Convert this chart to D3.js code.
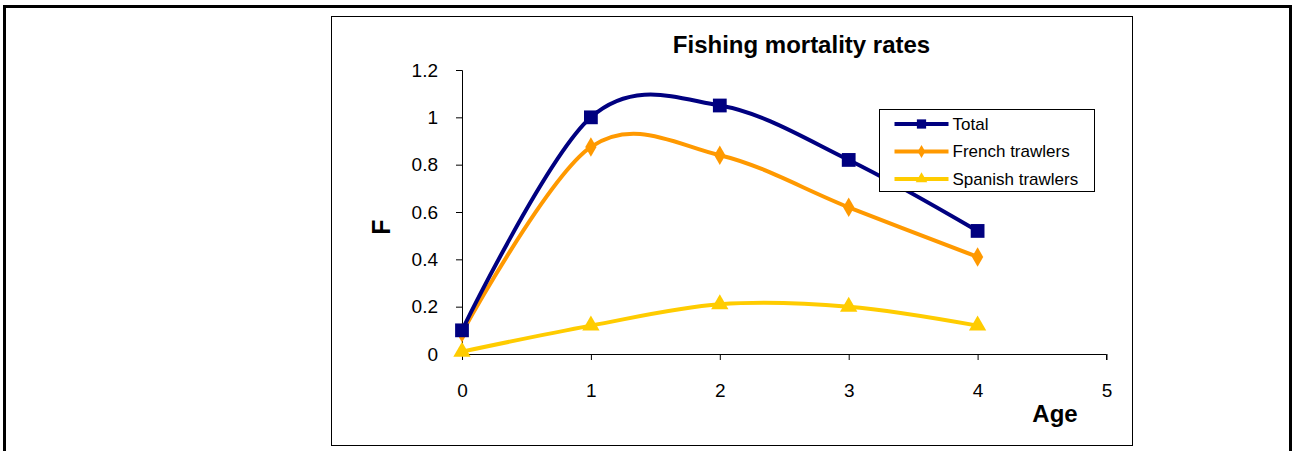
<!DOCTYPE html>
<html>
<head>
<meta charset="utf-8">
<script src="https://cdn.jsdelivr.net/npm/d3@7"></script>
<style>
  body { margin: 0; background: #fff; }
  svg { display: block; font-family: Arial, "Liberation Sans", sans-serif; }
</style>
</head>
<body>
<svg id="chart" width="1293" height="451"></svg>
<script>
const ages = [0, 1, 2, 3, 4];
const total = [0.10, 1.0, 1.05, 0.82, 0.52];
const french = [0.09, 0.875, 0.84, 0.62, 0.41];
const spanish = [0.01, 0.12, 0.21, 0.20, 0.12];
const xTicks = [0, 1, 2, 3, 4, 5];
const yTicks = [0, 0.2, 0.4, 0.6, 0.8, 1, 1.2];
const seriesNames = ["Total", "French trawlers", "Spanish trawlers"];

const svg = d3.select("#chart");

// outer frame
svg.append("path")
  .attr("d", "M4.5,451 L4.5,6.5 L1290.5,6.5 L1290.5,451")
  .attr("fill", "none")
  .attr("stroke", "#000")
  .attr("stroke-width", 3);

// chart area box
svg.append("rect")
  .attr("x", 331.5).attr("y", 16.5)
  .attr("width", 801).attr("height", 429)
  .attr("fill", "#fff")
  .attr("stroke", "#000")
  .attr("stroke-width", 1);

const x = d3.scaleLinear().domain([0, 5]).range([462, 1106.5]);
const y = d3.scaleLinear().domain([0, 1.2]).range([354, 70]);

// axes
const yAxis = svg.append("g")
  .attr("transform", "translate(462,0)")
  .call(d3.axisLeft(y).tickValues(yTicks).tickSize(6).tickPadding(18)
    .tickFormat(d => String(+d.toFixed(1))));
const xAxis = svg.append("g")
  .attr("transform", "translate(0,354)")
  .call(d3.axisBottom(x).tickValues(xTicks).tickSize(6).tickPadding(24)
    .tickFormat(d3.format("d")));

[yAxis, xAxis].forEach(g => {
  g.select(".domain").attr("stroke", "#000");
  g.selectAll(".tick line").attr("stroke", "#000");
  g.selectAll("text")
    .attr("fill", "#000")
    .style("font-size", "19px")
    .style("font-family", "Arial, 'Liberation Sans', sans-serif");
});
yAxis.select(".domain").attr("d", "M-6,70.5H0.5V354");
xAxis.select(".domain").attr("d", "M462,0.5H1106.5V6");

// titles
svg.append("text")
  .attr("x", 801.5).attr("y", 53)
  .attr("text-anchor", "middle")
  .style("font-size", "24px").style("font-weight", "bold")
  .text("Fishing mortality rates");

svg.append("text")
  .attr("x", 1055).attr("y", 422)
  .attr("text-anchor", "middle")
  .style("font-size", "24px").style("font-weight", "bold")
  .text("Age");

svg.append("text")
  .attr("transform", "translate(390,227) rotate(-90)")
  .attr("text-anchor", "middle")
  .style("font-size", "25px").style("font-weight", "bold")
  .text("F");

const series = [
  { name: seriesNames[0], values: total, color: "#000080", symbol: d3.symbolSquare, size: 190 },
  { name: seriesNames[1], values: french, color: "#FF9900", symbol: d3.symbolDiamond, size: 110 },
  { name: seriesNames[2], values: spanish, color: "#FFCC00", symbol: d3.symbolTriangle, size: 130 }
];

const line = d3.line()
  .x((d, i) => x(ages[i]))
  .y(d => y(d))
  .curve(d3.curveCardinal.tension(0));

// draw in reverse so Total sits on top
series.slice().reverse().forEach(s => {
  const g = svg.append("g").attr("class", "series");
  g.append("path")
    .attr("d", line(s.values))
    .attr("fill", "none")
    .attr("stroke", s.color)
    .attr("stroke-width", 4);
  g.selectAll("path.marker")
    .data(s.values)
    .enter()
    .append("path")
    .attr("class", "marker")
    .attr("d", d3.symbol().type(s.symbol).size(s.size))
    .attr("transform", (d, i) => `translate(${x(ages[i])},${y(d)})`)
    .attr("fill", s.color);
});

// legend
const legend = svg.append("g").attr("transform", "translate(879.5,109.5)");
legend.append("rect")
  .attr("width", 215).attr("height", 82)
  .attr("fill", "#fff")
  .attr("stroke", "#000")
  .attr("stroke-width", 1);

const items = legend.selectAll("g.item")
  .data(series)
  .enter()
  .append("g")
  .attr("class", "item")
  .attr("transform", (d, i) => `translate(0,${14.5 + i * 27.5})`);

items.append("line")
  .attr("x1", 15).attr("x2", 69)
  .attr("stroke", d => d.color)
  .attr("stroke-width", 4);
items.append("path")
  .attr("d", d => d3.symbol().type(d.symbol).size(d.size * 0.45)())
  .attr("transform", "translate(42,0)")
  .attr("fill", d => d.color);
items.append("text")
  .attr("x", 73).attr("dy", "0.35em")
  .style("font-size", "17px")
  .text(d => d.name);
</script>
</body>
</html>
